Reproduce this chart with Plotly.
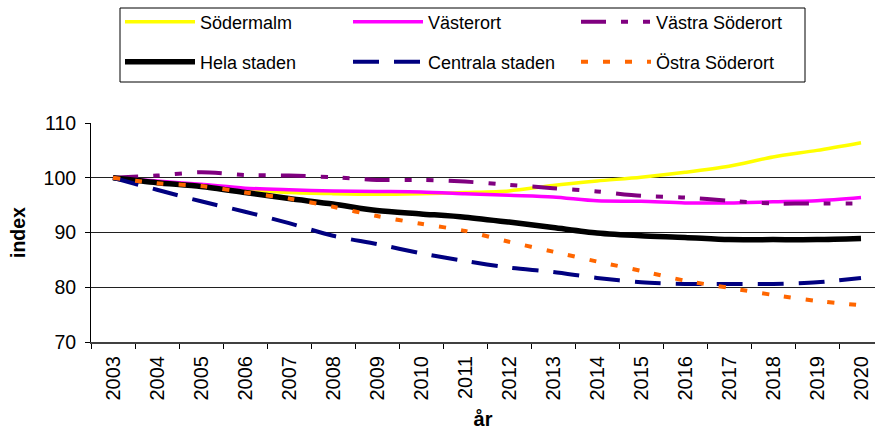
import plotly.graph_objects as go

years = [str(y) for y in range(2003, 2021)]

sodermalm = [100, 99.1, 98.4, 97.8, 97.3, 97.1, 97.0, 97.1, 97.3, 97.6, 98.6, 99.4, 100.1, 101.0, 102.1, 103.8, 105.0, 106.4]
vasterort = [100, 99.4, 98.8, 98.1, 97.8, 97.6, 97.5, 97.4, 97.1, 96.8, 96.5, 95.8, 95.7, 95.4, 95.4, 95.6, 95.8, 96.4]
vastra_soderort = [100, 100.4, 101.0, 100.5, 100.4, 100.1, 99.6, 99.6, 99.3, 98.7, 98.1, 97.5, 96.7, 96.4, 95.8, 95.3, 95.3, 95.3]
hela_staden = [100, 99.1, 98.4, 97.3, 96.2, 95.2, 94.0, 93.4, 92.8, 91.9, 90.9, 89.9, 89.4, 89.1, 88.7, 88.7, 88.7, 88.9]
centrala_staden = [100, 97.8, 95.7, 93.8, 91.7, 89.4, 87.9, 86.2, 84.8, 83.6, 82.8, 81.7, 80.9, 80.6, 80.6, 80.6, 80.9, 81.7]
ostra_soderort = [100, 99.0, 98.5, 97.3, 96.2, 94.7, 93.0, 91.6, 90.3, 88.3, 86.5, 84.7, 83.0, 81.2, 79.9, 78.6, 77.5, 76.7]

y_ticks = [70, 80, 90, 100, 110]

FONT = "Arial, Liberation Sans, sans-serif"

series = [
    ("Södermalm", sodermalm, "#FFFF00", 3.5, "solid", "legend"),
    ("Västerort", vasterort, "#FF00FF", 3.5, "solid", "legend"),
    ("Västra Söderort", vastra_soderort, "#800080", 4, "25px,15px,7px,15px,7px,15px", "legend"),
    ("Hela staden", hela_staden, "#000000", 5.5, "solid", "legend2"),
    ("Centrala staden", centrala_staden, "#000080", 4, "26px,15px", "legend2"),
    ("Östra Söderort", ostra_soderort, "#FF6600", 4, "7px,15px", "legend2"),
]

fig = go.Figure()
for name, vals, color, width, dash, lg in series:
    fig.add_trace(go.Scatter(
        x=years, y=vals, name=name, mode="lines", legend=lg,
        line=dict(color=color, width=width, dash=dash, shape="spline", smoothing=0.8),
    ))

W, H = 875, 430
ML, MR, MT, MB = 91, 0, 123, 88
PW, PH = W - ML - MR, H - MT - MB


def px(x):
    return (x - ML) / PW


def py(y):
    return (H - MB - y) / PH


leg_common = dict(
    orientation="h", xanchor="left", yanchor="middle",
    font=dict(family=FONT, size=18, color="black"),
    bgcolor="rgba(0,0,0,0)", borderwidth=0,
    entrywidth=143, entrywidthmode="pixels", itemwidth=70,
    traceorder="normal",
)

fig.update_layout(
    width=W, height=H,
    margin=dict(l=ML, r=MR, t=MT, b=MB, autoexpand=False),
    paper_bgcolor="white", plot_bgcolor="white",
    font=dict(family=FONT, size=18, color="black"),
    showlegend=True,
    legend=dict(x=px(120), y=py(22), **leg_common),
    legend2=dict(x=px(120), y=py(62), **leg_common),
    xaxis=dict(
        type="category", range=[-0.5, 17.318],
        showgrid=False, showline=True, linecolor="#404040", linewidth=2,
        ticks="outside", tickson="boundaries", ticklen=5, tickcolor="black",
        tickangle=-90, tickfont=dict(family=FONT, size=20, color="black"),
        ticklabelstandoff=4,
        title=dict(text="<b>år</b>", font=dict(family=FONT, size=20, color="black"), standoff=14),
        fixedrange=True, automargin=False,
    ),
    yaxis=dict(
        range=[70, 110], tickvals=y_ticks,
        showgrid=True, gridcolor="#202020", gridwidth=1,
        showline=True, linecolor="black", linewidth=1,
        ticks="outside", ticklen=5, tickcolor="black",
        tickfont=dict(family=FONT, size=19.5, color="black"),
        ticklabelstandoff=5,
        zeroline=False,
        title=dict(text="<b>index</b>", font=dict(family=FONT, size=19.5, color="black"), standoff=12),
        fixedrange=True, automargin=False,
    ),
    shapes=[dict(type="rect", xref="paper", yref="paper",
                 x0=px(120), x1=px(805), y0=py(82), y1=py(8),
                 line=dict(color="black", width=1), fillcolor="rgba(0,0,0,0)")],
)

fig.write_html("out.html", config={"displayModeBar": False},
               post_script="document.body.style.margin='0px';")
